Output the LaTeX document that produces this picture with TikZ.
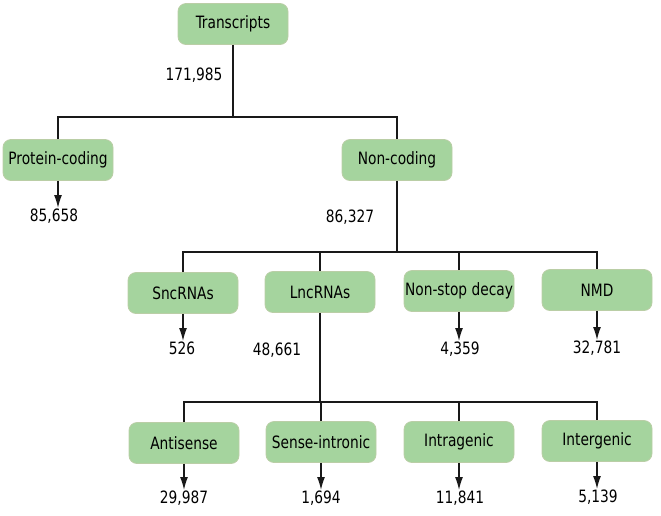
\documentclass[tikz,border=0pt]{standalone}
\usepackage{fontspec}
\setmainfont[FakeStretch=0.9]{DejaVu Sans Condensed}
\usetikzlibrary{positioning, arrows.meta, calc}
\definecolor{boxgreen}{RGB}{165,212,158}
\definecolor{boxedge}{RGB}{186,206,166}

\begin{document}
\begin{tikzpicture}[x=1pt, y=1pt, >={Latex[length=13pt,width=8pt]},
    font=\fontsize{17}{20}\selectfont,
    cat/.style={draw=boxedge, line width=0.8pt, fill=boxgreen, rounded corners=8pt, minimum width=110pt, minimum height=41pt, inner sep=1pt},
    num/.style={inner sep=1pt},
    link/.style={line width=1.3pt, black!90}]
	\useasboundingbox (0,0) rectangle (661,-515);
	% boxes
	\node[cat] (tr) at (233,-24) {Transcripts};
	\node[cat] (pc) at (58,-160) {Protein-coding};
	\node[cat] (nc) at (397,-160) {Non-coding};
	\node[cat] (sn) at (183,-293) {SncRNAs};
	\node[cat] (ln) at (320,-292) {LncRNAs};
	\node[cat] (ns) at (459,-291) {Non-stop decay};
	\node[cat] (nmd) at (597,-290) {NMD};
	\node[cat] (as) at (184,-443) {Antisense};
	\node[cat] (si) at (321,-442) {Sense-intronic};
	\node[cat] (ia) at (459,-442) {Intragenic};
	\node[cat] (ie) at (597,-441) {Intergenic};
	% counts
	\node[num] (ntr) at (194,-75) {171,985};
	\node[num] (nnc) at (350,-217) {86,327};
	\node[num] (nln) at (277,-350) {48,661};
	\node[num, anchor=north] (npc) at (54,-208) {85,658};
	\node[num, anchor=north] (nsn) at (182,-341) {526};
	\node[num, anchor=north] (nns) at (460,-341) {4,359};
	\node[num, anchor=north] (nnmd) at (597,-340) {32,781};
	\node[num, anchor=north] (nas) at (184,-490) {29,987};
	\node[num, anchor=north] (nsi) at (321,-490) {1,694};
	\node[num, anchor=north] (nia) at (460,-490) {11,841};
	\node[num, anchor=north] (nie) at (598,-489) {5,139};
	% tree lines
	\coordinate (j1) at (233,-117);
	\coordinate (j2) at (397,-252);
	\coordinate (j3) at (320,-402);
	\draw[link] (tr.south) -- (j1);
	\draw[link] (pc.north) |- (j1) -| (nc.north);
	\draw[link] (nc.south) -- (j2);
	\draw[link] (sn.north) |- (j2) -| (nmd.north);
	\draw[link] (ln.north) -- (ln.north |- j2);
	\draw[link] (ns.north) -- (ns.north |- j2);
	\draw[link] (ln.south) -- (j3);
	\draw[link] (as.north) |- (j3) -| (ie.north);
	\draw[link] (si.north) -- (si.north |- j3);
	\draw[link] (ia.north) -- (ia.north |- j3);
	% arrows to counts
	\draw[link, ->] (pc.south) -- (pc.south |- npc.north);
	\draw[link, ->] (sn.south) -- (sn.south |- nsn.north);
	\draw[link, ->] (ns.south) -- (ns.south |- nns.north);
	\draw[link, ->] (nmd.south) -- (nmd.south |- nnmd.north);
	\draw[link, ->] (as.south) -- (as.south |- nas.north);
	\draw[link, ->] (si.south) -- (si.south |- nsi.north);
	\draw[link, ->] (ia.south) -- (ia.south |- nia.north);
	\draw[link, ->] (ie.south) -- (ie.south |- nie.north);
\end{tikzpicture}
\end{document}
